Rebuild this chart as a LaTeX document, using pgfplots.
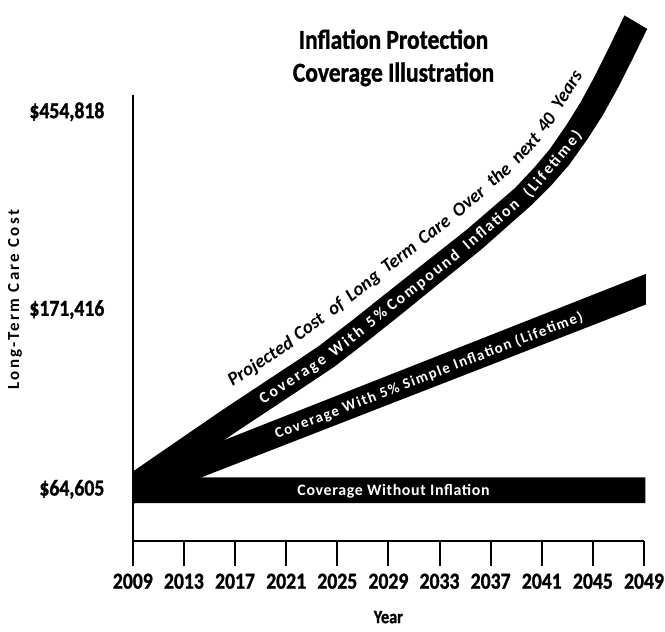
\documentclass[border=0pt]{standalone}
\usepackage{fontspec}
\setmainfont{Carlito}
\newfontfamily\cond{Carlito}[FakeStretch=0.86, BoldFeatures={FakeBold=1.2}]
\usepackage{pgfplots}
\pgfplotsset{compat=1.18}
\newcommand\bandfont[1]{\bfseries\fontsize{#1}{#1}\selectfont}
\begin{document}
\begin{tikzpicture}
% x = years since 2009
\begin{axis}[
  name=ax, at={(0,0)}, anchor=south west,
  width=512bp, height=447bp, scale only axis,
  xmin=0, xmax=40, ymin=0, ymax=447,
  clip=false,
  axis lines*=left,
  axis line style={line width=2.2bp},
  xtick={0,4,...,40},
  xticklabels={2009,2013,2017,2021,2025,2029,2033,2037,2041,2045,2049},
  ytick={52,232,430},
  yticklabels={{\$64,605},{\$171,416},{\$454,818}},
  tick align=outside,
  major tick length=25bp,
  xtick style={line width=2bp, black},
  ytick style={draw=none},
  ticklabel style={font=\cond\bfseries\fontsize{23}{23}\selectfont},
  xticklabel style={yshift=-4bp},
  title={Inflation Protection\\Coverage Illustration},
  title style={font=\cond\bfseries\fontsize{27.5}{33}\selectfont, align=center, at={(rel axis cs:0.51,1)}, anchor=center, yshift=31bp},
  xlabel={Year}, ylabel={Long-Term Care Cost},
  every axis x label/.style={at={(rel axis cs:0.5,0)}, anchor=center, yshift=-76bp, font=\cond\bfseries\fontsize{19}{19}\selectfont},
  every axis y label/.style={at={(rel axis cs:0,0.541)}, anchor=center, xshift=-118bp, rotate=90, font=\bfseries\fontsize{17}{17}\selectfont\addfontfeature{LetterSpace=14}},
]
% 5% compound inflation band: upper edge, then lower edge back
\addplot[fill=black, draw=none] coordinates {
  (0,69.7) (1.901,86.46) (4.593,110.16) (7.065,131.85) (9.609,153.4) (12.289,176.1) (14.569,195.55)
  (17.236,221.9) (19.918,249.2) (23.012,280.54) (26.09,311.55) (28.007,332.7) (29.906,353.66)
  (31.36,373.5) (32.60,392.2) (33.93,416.8) (35.05,439.9) (36.19,466.8) (37.33,496.2) (38.47,526.5)
  (40.25,513.08) (39.10,482.92) (37.95,453.76) (36.76,426.36) (35.58,402.77) (34.14,376.9)
  (32.79,357.08) (31.171,336.34) (29.224,314.3) (27.295,292.45) (24.219,260.66) (21.158,228.8)
  (18.456,201.3) (15.738,174.45) (13.403,154.5) (10.699,131.6) (8.166,110.15) (5.715,88.63) (3.022,64.93) (0,38.3) (0,69.7)};
% 5% simple inflation band
\addplot[fill=black, draw=none] coordinates {(0,37.2) (40.15,237.1) (40.15,267.7) (0,65.2) (0,37.2)};
% no inflation band
\addplot[fill=black, draw=none] coordinates {(0,38) (40.1,38) (40.1,64) (0,64) (0,38)};
% labels
\begin{scope}[every node/.style={anchor=mid, inner sep=0pt}]
\node[text=white, font=\bandfont{16}\addfontfeature{LetterSpace=4}] at (axis cs:20.4,48) {Coverage Without Inflation};
\node[text=white, rotate=21.1, font=\bandfont{15}\addfontfeature{LetterSpace=10}] at (axis cs:23.231,164) {Coverage With 5\% Simple Inflation (Lifetime)};
\node[text=white, rotate=33.1, font=\bandfont{16}\addfontfeature{LetterSpace=14}] at (axis cs:12.623,160) {Coverage};
\node[text=white, rotate=37.2, font=\bandfont{16}\addfontfeature{LetterSpace=14}] at (axis cs:16.854,198) {With};
\node[text=white, rotate=38.0, font=\bandfont{16}\addfontfeature{LetterSpace=14}] at (axis cs:19.192,222) {5\%};
\node[text=white, rotate=38.3, font=\bandfont{16}\addfontfeature{LetterSpace=14}] at (axis cs:22.838,259) {Compound};
\node[text=white, rotate=40.7, font=\bandfont{16}\addfontfeature{LetterSpace=14}] at (axis cs:28.154,315) {Inflation};
\node[text=white, rotate=50.0, font=\bandfont{16}\addfontfeature{LetterSpace=14}] at (axis cs:33.008,376) {(Lifetime)};
\node[rotate=33.1, font=\bandfont{19}\itshape] at (axis cs:10.15,177) {Projected};
\node[rotate=37.3, font=\bandfont{19}\itshape] at (axis cs:13.95,212) {Cost};
\node[rotate=37.3, font=\bandfont{19}\itshape] at (axis cs:16.05,232) {of};
\node[rotate=38.1, font=\bandfont{19}\itshape] at (axis cs:18.15,253) {Long};
\node[rotate=37.9, font=\bandfont{19}\itshape] at (axis cs:21.0,281.5) {Term};
\node[rotate=37.7, font=\bandfont{19}\itshape] at (axis cs:23.75,309) {Care};
\node[rotate=40.4, font=\bandfont{19}\itshape] at (axis cs:26.462,337.5) {Over};
\node[rotate=41.0, font=\bandfont{19}\itshape] at (axis cs:28.831,364) {the};
\node[rotate=47.6, font=\bandfont{19}\itshape] at (axis cs:30.946,391) {next};
\node[rotate=54.1, font=\bandfont{19}\itshape] at (axis cs:32.577,417) {40};
\node[rotate=58.0, font=\bandfont{19}\itshape] at (axis cs:34.2,450) {Years};
\end{scope}
\end{axis}
\pgfresetboundingbox
\path[use as bounding box] ([shift={(-133bp,-90bp)}]ax.south west) rectangle ([shift={(21bp,95bp)}]ax.north east);
\end{tikzpicture}
\end{document}
